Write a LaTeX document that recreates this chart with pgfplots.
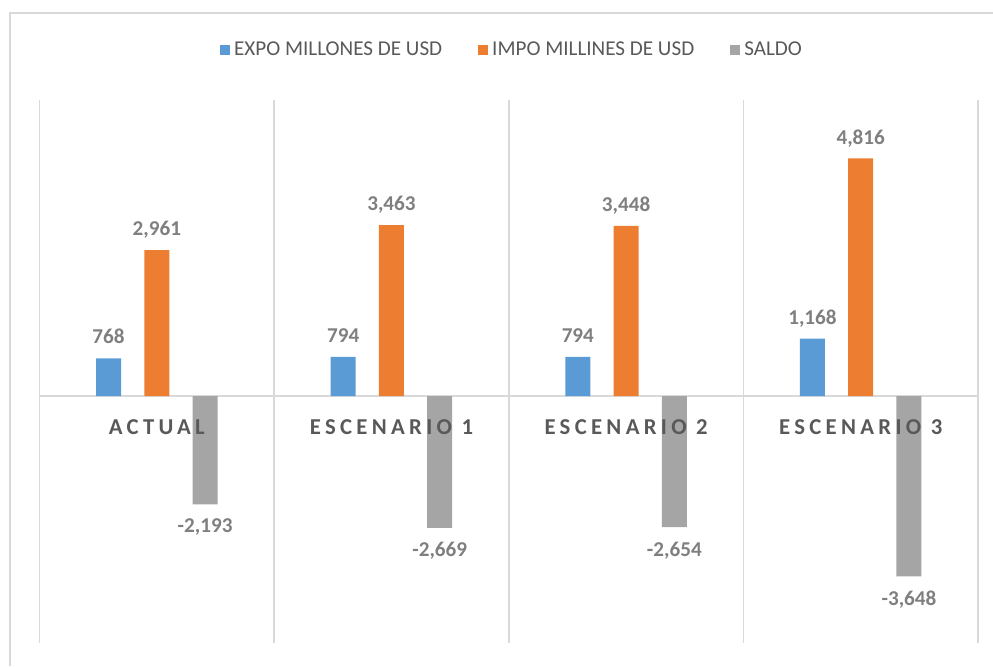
\documentclass[border=0pt]{standalone}
\usepackage{fontspec}
\setmainfont{Carlito}
\usepackage{pgfplots}
\pgfplotsset{compat=1.18}
\definecolor{cblue}{HTML}{5B9BD5}
\definecolor{corange}{HTML}{ED7D31}
\definecolor{cgray}{HTML}{A5A5A5}
\definecolor{gridgray}{HTML}{D9D9D9}
\definecolor{labgray}{HTML}{7F7F7F}
\definecolor{catgray}{HTML}{595959}
\tikzset{catlabel/.style={anchor=base, yshift=-19bp, text=catgray,
    font=\fontsize{11.4}{13}\selectfont\bfseries\addfontfeatures{LetterSpace=19}}}

\begin{document}
\begin{tikzpicture}[x=1bp,y=1bp]
\useasboundingbox (0,0) rectangle (496.5,333);
\draw[gridgray, line width=0.75bp] (5,0) -- (5,326.6) -- (496.5,326.6);
\begin{axis}[
    at={(19.75bp,11.5bp)}, anchor=south west,
    scale only axis, width=469.25bp, height=271.5bp,
    xmin=-0.5, xmax=3.5, ymin=-5000, ymax=6000,
    ybar, bar width=0.1066,
    xtick={-0.5,0.5,1.5,2.5,3.5}, xticklabels={}, xmajorgrids,
    ytick={0}, yticklabels={}, ymajorgrids,
    grid style={draw=gridgray, line width=0.75bp},
    axis line style={draw=none}, major tick length=0pt,
    nodes near coords={\pgfmathprintnumber[fixed,precision=0,1000 sep={,},assume math mode=true]{\pgfplotspointmeta}},
    nodes near coords align={vertical},
    nodes near coords style={font=\fontsize{10.6}{12}\selectfont\bfseries, text=labgray,
        inner xsep=0pt, inner ysep=7bp, text depth=0pt},
    legend image code/.code={\fill[#1] (0bp,-2.5bp) rectangle (5bp,2.5bp);},
    legend style={at={(0.5045,1.092)}, anchor=center, draw=none, fill=none,
        legend columns=3, font=\fontsize{10.6}{12}\selectfont, text=catgray,
        /tikz/every even column/.append style={column sep=16bp}},
]
\addplot[fill=cblue, draw=none, bar shift=-0.2057] coordinates {(0,768) (1,794) (2,794) (3,1168)};
\addplot[fill=corange, draw=none, bar shift=0] coordinates {(0,2961) (1,3463) (2,3448) (3,4816)};
\addplot[fill=cgray, draw=none, bar shift=0.2057] coordinates {(0,-2193) (1,-2669) (2,-2654) (3,-3648)};
\legend{EXPO MILLONES DE USD, IMPO MILLINES DE USD, SALDO}
\node[catlabel] at (axis cs:0,0) {ACTUAL};
\node[catlabel] at (axis cs:1,0) {ESCENARIO 1};
\node[catlabel] at (axis cs:2,0) {ESCENARIO 2};
\node[catlabel] at (axis cs:3,0) {ESCENARIO 3};
\end{axis}
\end{tikzpicture}
\end{document}
